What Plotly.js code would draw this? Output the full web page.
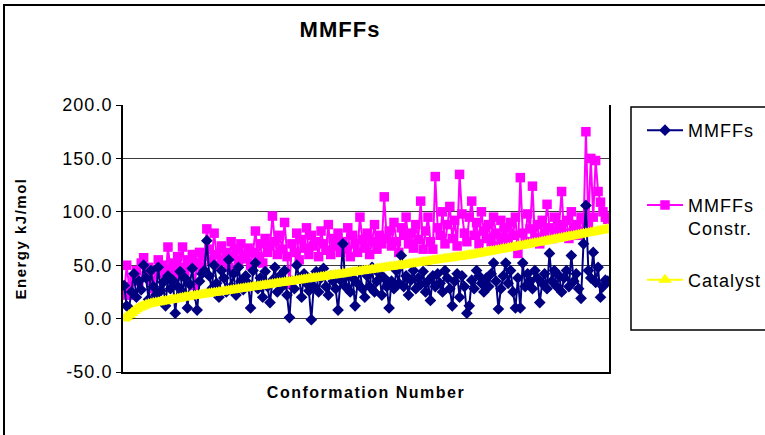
<!DOCTYPE html>
<html>
<head>
<meta charset="utf-8">
<script src="https://cdn.plot.ly/plotly-3.0.1.min.js"></script>
<style>
  html, body { margin: 0; padding: 0; background: #fff; }
  #wrap { position: relative; width: 765px; height: 435px; overflow: hidden; }
  #chart { width: 765px; height: 435px; }
  #frame { position: absolute; left: 3px; top: 4px; width: 900px; height: 600px;
           border-left: 2px solid #000; border-top: 2px solid #000; pointer-events: none; }
  .gtitle { letter-spacing: 1px; }
  .xtitle { letter-spacing: 1.5px; }
  .ytitle { letter-spacing: 1.5px; }
  .legendtext { letter-spacing: 1px; }
  .ytick text { letter-spacing: 1px; }
</style>
</head>
<body>
<div id="wrap"><div id="chart"></div><div id="frame"></div></div>
<script>
// Series names (legend)
const seriesNames = ["MMFFs<br>\u00A0", "MMFFs<br>Constr.", "Catalyst"];

// MMFFs (kJ/mol) per conformation
const mmffs = [
  31, 12, 10, 25, 42, 20, 35, 27, 50, 38,
  18, 45, 30, 22, 48, 26, 34, 12, 40, 28,
  36, 5, 30, 44, 25, 38, 10, 32, 47, 22,
  8, 35, 42, 45, 73, 40, 28, 50, 33, 20,
  45, 38, 25, 55, 30, 42, 22, 48, 35, 27,
  40, 33, 10, 45, 52, 28, 38, 20, 44, 30,
  15, 36, 48, 25, 40, 30, 45, 22, 1, 35,
  28, 50, 38, 20, 42, 33, 26, -1, 30, 44,
  25, 38, 47, 30, 22, 40, 35, 28, 8, 36,
  70, 30, 42, 25, 38, 12, 33, 45, 28, 20,
  40, 30, 48, 25, 35, 42, 22, 38, 30, 10,
  35, 28, 45, 33, 59, 30, 40, 22, 36, 45,
  28, 38, 32, 44, 25, 35, 17, 40, 30, 42,
  33, 25, 45, 38, 28, 12, 35, 42, 20, 40,
  30, 5, 12, 36, 28, 45, 40, 33, 25, 38,
  30, 42, 52, 35, 9, 28, 40, 52, 33, 45,
  25, 10, 38, 10, 52, 30, 42, 35, 28, 45,
  38, 15, 33, 42, 28, 61, 35, 45, 30, 40,
  25, 38, 45, 30, 59, 35, 42, 28, 19, 70,
  106, 45, 38, 62, 34, 48, 20, 30, 36, 35
];

// MMFFs Constr. (kJ/mol)
const mmffsConstr = [
  22, 50, 30, 22, 38, 45, 35, 52, 57, 40,
  48, 36, 28, 45, 55, 42, 50, 38, 67, 46,
  52, 40, 58, 48, 67, 44, 55, 50, 60, 31,
  52, 62, 48, 58, 84, 65, 55, 80, 60, 50,
  68, 55, 62, 48, 72, 58, 65, 52, 70, 60,
  56, 66, 50, 62, 82, 58, 70, 52, 75, 62,
  68, 96, 72, 60, 78, 65, 90, 58, 32, 70,
  62, 80, 55, 74, 66, 85, 60, 78, 68, 72,
  58, 82, 70, 64, 88, 60, 75, 68, 80, 62,
  72, 65, 85, 58, 78, 70, 62, 95, 74, 66,
  80, 60, 72, 88, 65, 78, 70, 114, 75, 82,
  68, 90, 72, 62, 85, 78, 95, 70, 80, 66,
  88, 74, 110, 65, 82, 95, 72, 65, 133, 85,
  78, 100, 70, 88, 105, 75, 92, 68, 135, 98,
  80, 72, 95, 110, 78, 90, 70, 100, 82, 75,
  88, 72, 95, 80, 68, 92, 76, 85, 70, 90,
  78, 95, 61, 132, 80, 72, 98, 84, 124, 76,
  88, 70, 92, 80, 107, 85, 75, 95, 82, 88,
  119, 80, 92, 75, 100, 85, 88, 78, 95, 82,
  175, 88, 150, 95, 148, 119, 109, 100, 95, 93
];

// Catalyst (kJ/mol), sorted ascending
const catalyst = [
  0, 1.5, 3.4, 5.3, 7.2, 8.8, 10.1, 11.2, 12.1, 12.9,
  13.6, 14.1, 14.6, 15.0, 15.4, 15.8, 16.2, 16.6, 17.0, 17.4,
  17.8, 18.2, 18.6, 19.0, 19.5, 20.0, 20.4, 20.8, 21.1, 21.5,
  21.8, 22.2, 22.5, 22.9, 23.2, 23.5, 23.9, 24.2, 24.5, 24.9,
  25.2, 25.5, 25.9, 26.2, 26.6, 26.9, 27.3, 27.6, 27.9, 28.3,
  28.6, 29.0, 29.3, 29.6, 29.9, 30.3, 30.6, 30.9, 31.3, 31.6,
  31.9, 32.3, 32.6, 33.0, 33.3, 33.6, 34.0, 34.3, 34.6, 35.0,
  35.3, 35.6, 36.0, 36.3, 36.6, 37.0, 37.3, 37.6, 38.0, 38.3,
  38.6, 39.0, 39.3, 39.6, 40.0, 40.3, 40.6, 41.0, 41.3, 41.6,
  42.0, 42.3, 42.6, 43.0, 43.3, 43.6, 44.0, 44.3, 44.6, 45.0,
  45.3, 45.6, 46.0, 46.3, 46.6, 47.0, 47.3, 47.6, 48.0, 48.3,
  48.6, 49.0, 49.3, 49.6, 50.0, 50.3, 50.6, 51.0, 51.3, 51.6,
  52.0, 52.3, 52.6, 53.0, 53.3, 53.6, 54.0, 54.3, 54.6, 55.0,
  55.3, 55.6, 56.0, 56.3, 56.6, 57.0, 57.3, 57.7, 58.0, 58.4,
  58.7, 59.1, 59.4, 59.8, 60.2, 60.6, 61.0, 61.4, 61.8, 62.2,
  62.6, 63.0, 63.4, 63.9, 64.3, 64.7, 65.1, 65.5, 66.0, 66.4,
  66.8, 67.2, 67.7, 68.1, 68.5, 69.0, 69.4, 69.8, 70.3, 70.7,
  71.1, 71.6, 72.0, 72.4, 72.9, 73.3, 73.7, 74.2, 74.6, 75.0,
  75.5, 75.9, 76.3, 76.8, 77.2, 77.6, 78.1, 78.5, 78.9, 79.4,
  79.8, 80.2, 80.7, 81.1, 81.5, 82.0, 82.4, 82.8, 83.3, 84.0
];

// Y axis ticks
const yTickVals = [-50, 0, 50, 100, 150, 200];
const yTickText = ["-50.0", "0.0", "50.0", "100.0", "150.0", "200.0"];

// Conformation numbers (categories)
const conformation = mmffs.map((_, i) => i + 1);

const FONT = "Liberation Sans, Arial, sans-serif";

const traces = [
  {
    x: conformation, y: mmffsConstr, type: "scatter", mode: "lines+markers",
    name: seriesNames[1], legendgroup: "b", legendrank: 2,
    line: { color: "#FF00FF", width: 2 },
    marker: { symbol: "square", size: 9.5, color: "#FF00FF" }
  },
  {
    x: conformation, y: mmffs, type: "scatter", mode: "lines+markers",
    name: seriesNames[0], legendgroup: "a", legendrank: 1,
    line: { color: "#000080", width: 2 },
    marker: { symbol: "diamond", size: 9, color: "#000080" }
  },
  {
    x: conformation, y: catalyst, type: "scatter", mode: "lines+markers",
    name: seriesNames[2], legendgroup: "c", legendrank: 3,
    line: { color: "#FFFF00", width: 2 },
    marker: { symbol: "triangle-up", size: 12, color: "#FFFF00" }
  }
];

const W = 765, H = 435, L = 123, R = 156, T = 105, B = 63;
const pw = W - L - R, ph = H - T - B;
const px = v => (v - L) / pw;
const py = v => (H - B - v) / ph;

const layout = {
  width: W, height: H,
  margin: { l: L, r: R, t: T, b: B, pad: 0, autoexpand: false },
  paper_bgcolor: "#ffffff", plot_bgcolor: "#ffffff",
  font: { family: FONT, color: "#000000", size: 18 },
  title: {
    text: "<b>MMFFs</b>",
    font: { family: FONT, size: 22, color: "#000000" },
    x: px(340), xref: "paper", xanchor: "center",
    y: 1 - 29 / H, yref: "container", yanchor: "middle"
  },
  xaxis: {
    range: [0.5, conformation.length + 0.5],
    showticklabels: false, ticks: "", showgrid: false, zeroline: false,
    showline: true, linecolor: "#000000", linewidth: 2, mirror: false,
    automargin: false,
    title: {
      text: "<b>Conformation Number</b>",
      font: { family: FONT, size: 16, color: "#000000" },
      standoff: 14
    },
    fixedrange: true
  },
  yaxis: {
    range: [-50, 200],
    automargin: false,
    tickmode: "array", tickvals: yTickVals, ticktext: yTickText,
    ticks: "outside", ticklen: 5, tickcolor: "#000000", tickwidth: 1,
    tickfont: { family: FONT, size: 18, color: "#000000" },
    showgrid: true, gridcolor: "#3a3a3a", gridwidth: 1,
    zeroline: false,
    showline: true, linecolor: "#000000", linewidth: 2, mirror: true,
    title: {
      text: "<b>Energy kJ/mol</b>",
      font: { family: FONT, size: 15, color: "#000000" },
      standoff: 32
    },
    fixedrange: true
  },
  showlegend: true,
  legend: {
    x: px(642), xanchor: "left",
    y: py(112), yanchor: "top",
    bgcolor: "rgba(0,0,0,0)", borderwidth: 0,
    font: { family: FONT, size: 18, color: "#000000" },
    valign: "top",
    tracegroupgap: 25,
    itemwidth: 36
  },
  shapes: [
    // legend box
    { type: "rect", xref: "paper", yref: "paper",
      x0: px(631), x1: px(790), y0: py(330), y1: py(107),
      line: { color: "#000000", width: 1.5 }, fillcolor: "rgba(0,0,0,0)" }
  ]
};

Plotly.newPlot("chart", traces, layout, { displayModeBar: false, staticPlot: true });
</script>
</body>
</html>
